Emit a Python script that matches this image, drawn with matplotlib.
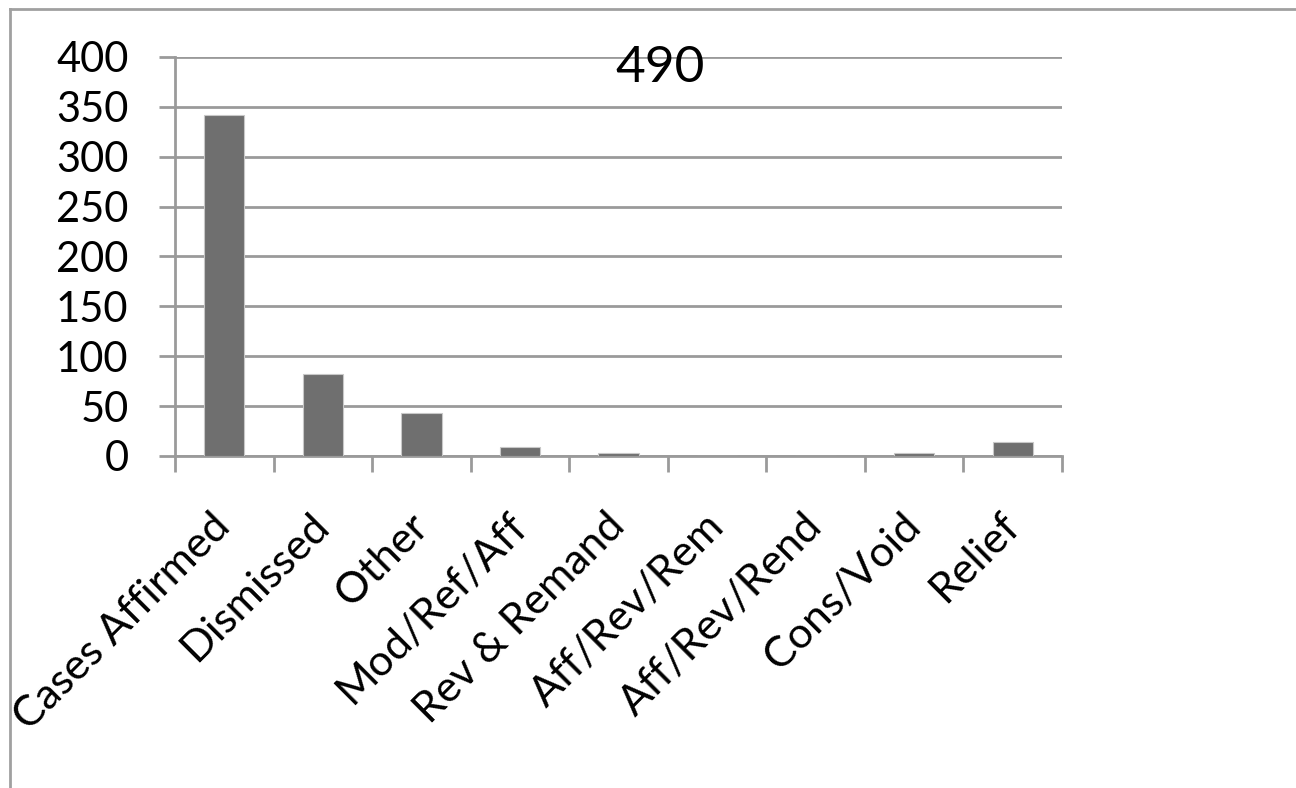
import numpy as np
import matplotlib.pyplot as plt
from matplotlib.lines import Line2D

# Appeal outcomes, 490 cases
categories = ["Cases Affirmed", "Dismissed", "Other", "Mod/Ref/Aff", "Rev & Remand",
              "Aff/Rev/Rem", "Aff/Rev/Rend", "Cons/Void", "Relief"]
counts = [342, 82, 43, 9, 3, 0, 0, 3, 14]
y_ticks = [0, 50, 100, 150, 200, 250, 300, 350, 400]
total_label = "490"

plt.rcParams["font.family"] = ["Lato", "DejaVu Sans"]

grid_grey = "#9a9a9a"
bar_grey = "#6f6f6f"

fig = plt.figure(figsize=(12.96, 7.88), dpi=100)
ax = fig.add_axes([175 / 1296, 1 - 456 / 788, (1062 - 175) / 1296, (456 - 57) / 788])

x = np.arange(len(categories))
ax.bar(x, counts, width=0.41, color=bar_grey, edgecolor="#c8c8c8", linewidth=0.8, zorder=3)

ax.set_xlim(-0.5, len(categories) - 0.5)
ax.set_ylim(0, 400)
ax.set_yticks(y_ticks)
ax.set_yticklabels([str(v) for v in y_ticks], fontsize=30)
ax.yaxis.grid(True, color=grid_grey, linewidth=2, zorder=0)

ax.set_xticks(x)
ax.set_xticklabels(categories, fontsize=31, rotation=45, ha="right",
                   va="center", rotation_mode="anchor")
ax.set_xticks(np.arange(len(categories) + 1) - 0.5, minor=True)
ax.tick_params(axis="x", which="major", length=0, pad=46)
ax.tick_params(axis="x", which="minor", length=11.5, width=2, color=grid_grey)
ax.tick_params(axis="y", length=11.5, width=2, color=grid_grey, pad=22)

for side in ["top", "right"]:
    ax.spines[side].set_visible(False)
for side in ["left", "bottom"]:
    ax.spines[side].set_color(grid_grey)
    ax.spines[side].set_linewidth(2)

fig.text(660 / 1296, 1 - 68 / 788, total_label, fontsize=37, ha="center", va="center")

# outer frame
fig.add_artist(Line2D([10 / 1296, 1.0], [1 - 9 / 788] * 2, color="#a0a0a0", linewidth=2))
fig.add_artist(Line2D([10 / 1296] * 2, [0.0, 1 - 9 / 788], color="#a0a0a0", linewidth=2))

fig.savefig("out.png", dpi=100, facecolor="white")
